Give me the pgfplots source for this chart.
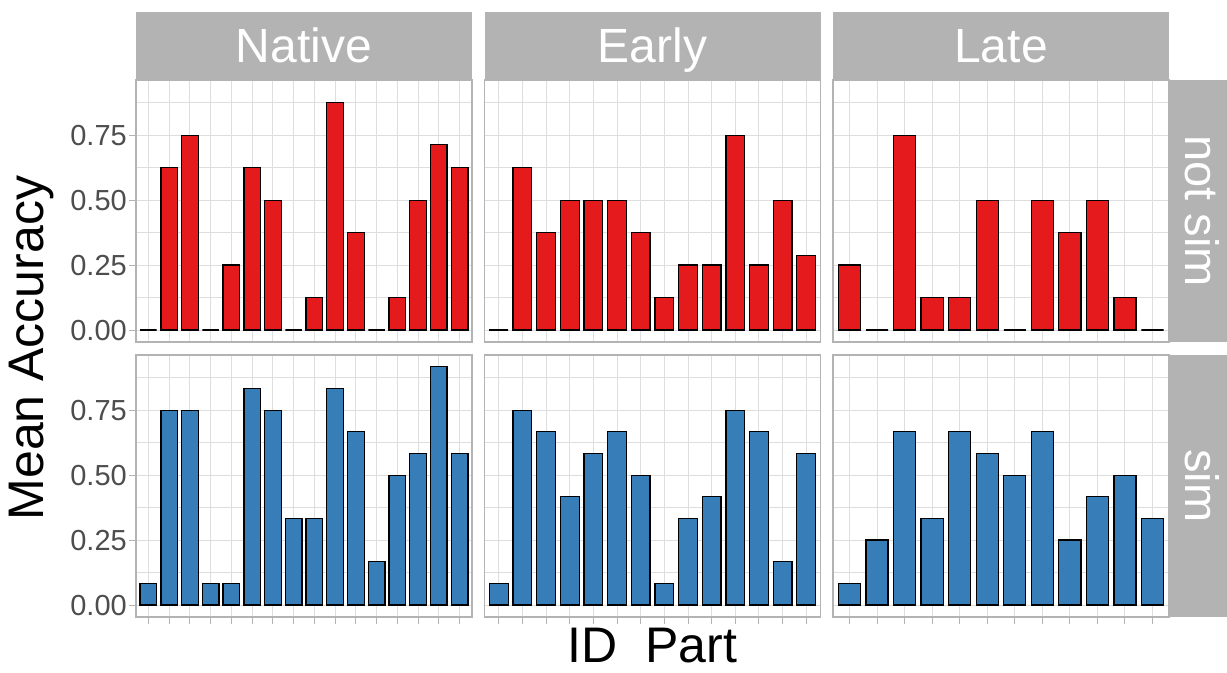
\documentclass[border=0pt]{standalone}
\usepackage{fontspec}
\setmainfont{Liberation Sans}
\usepackage{pgfplots}
\pgfplotsset{compat=1.18}

\definecolor{barred}{HTML}{E41A1C}
\definecolor{barblue}{HTML}{377EB8}
\definecolor{grey70}{HTML}{B3B3B3}
\definecolor{grey87}{HTML}{DEDEDE}
\definecolor{grey30}{HTML}{4D4D4D}

\pgfplotsset{
  facet/.style={
    scale only axis, width=336bp, height=262bp,
    anchor=south west,
    ymin=-0.0458, ymax=0.9625, xmin=0.4,
    ytick={0,0.25,0.5,0.75},
    minor ytick={0.125,0.375,0.625,0.875},
    grid=both,
    major grid style={grey87, line width=1bp},
    minor grid style={grey87, line width=0.8bp},
    axis line style={grey70, line width=1.3bp},
    tick align=outside,
    major tick length=7bp, minor tick length=0pt,
    every x tick/.style={draw=none},
    every y tick/.style={draw=none},
    xticklabels={}, yticklabels={},
    xtick pos=left, ytick pos=left,
    yticklabel style={font=\fontsize{29bp}{29bp}\selectfont, text=grey30, inner sep=2bp},
    ybar, bar width=0.8, bar shift=0pt,
  },
  leftcol/.style={
    yticklabels={0.00,0.25,0.50,0.75},
    every y tick/.style={draw=grey70, line width=1bp},
  },
  bottomrow/.style={
    every x tick/.style={draw=grey70, line width=1bp},
  },
  redbar/.style={fill=barred, draw=black, line width=1.3bp},
  bluebar/.style={fill=barblue, draw=black, line width=1.3bp},
}

\begin{document}
\begin{tikzpicture}

% ---- top row: not sim ----
\begin{axis}[facet, leftcol, at={(136bp,331bp)}, xmax=16.6, xtick={1,...,16}]
  \addplot[redbar] coordinates {
    (1,0) (2,0.625) (3,0.75) (4,0) (5,0.25) (6,0.625) (7,0.5) (8,0)
    (9,0.125) (10,0.875) (11,0.375) (12,0) (13,0.125) (14,0.5) (15,0.714) (16,0.625)
  };
\end{axis}
\begin{axis}[facet, at={(484.5bp,331bp)}, xmax=14.6, xtick={1,...,14}]
  \addplot[redbar] coordinates {
    (1,0) (2,0.625) (3,0.375) (4,0.5) (5,0.5) (6,0.5) (7,0.375)
    (8,0.125) (9,0.25) (10,0.25) (11,0.75) (12,0.25) (13,0.5) (14,0.286)
  };
\end{axis}
\begin{axis}[facet, at={(833bp,331bp)}, xmax=12.6, xtick={1,...,12}]
  \addplot[redbar] coordinates {
    (1,0.25) (2,0) (3,0.75) (4,0.125) (5,0.125) (6,0.5)
    (7,0) (8,0.5) (9,0.375) (10,0.5) (11,0.125) (12,0)
  };
\end{axis}

% ---- bottom row: sim ----
\begin{axis}[facet, leftcol, bottomrow, at={(136bp,56bp)}, xmax=16.6, xtick={1,...,16}]
  \addplot[bluebar] coordinates {
    (1,0.083) (2,0.75) (3,0.75) (4,0.083) (5,0.083) (6,0.833) (7,0.75) (8,0.333)
    (9,0.333) (10,0.833) (11,0.667) (12,0.167) (13,0.5) (14,0.583) (15,0.917) (16,0.583)
  };
\end{axis}
\begin{axis}[facet, bottomrow, at={(484.5bp,56bp)}, xmax=14.6, xtick={1,...,14}]
  \addplot[bluebar] coordinates {
    (1,0.083) (2,0.75) (3,0.667) (4,0.417) (5,0.583) (6,0.667) (7,0.5)
    (8,0.083) (9,0.333) (10,0.417) (11,0.75) (12,0.667) (13,0.167) (14,0.583)
  };
\end{axis}
\begin{axis}[facet, bottomrow, at={(833bp,56bp)}, xmax=12.6, xtick={1,...,12}]
  \addplot[bluebar] coordinates {
    (1,0.083) (2,0.25) (3,0.667) (4,0.333) (5,0.667) (6,0.583)
    (7,0.5) (8,0.667) (9,0.25) (10,0.417) (11,0.5) (12,0.333)
  };
\end{axis}

% ---- strips ----
\fill[grey70] (136bp,593bp) rectangle ++(336bp,68bp);
\fill[grey70] (484.5bp,593bp) rectangle ++(336bp,68bp);
\fill[grey70] (833bp,593bp) rectangle ++(336bp,68bp);
\node[white, anchor=base, inner sep=0pt, font=\fontsize{48bp}{48bp}\selectfont] at (304bp,610bp) {Native};
\node[white, anchor=base, inner sep=0pt, font=\fontsize{48bp}{48bp}\selectfont] at (652.5bp,610bp) {Early};
\node[white, anchor=base, inner sep=0pt, font=\fontsize{48bp}{48bp}\selectfont] at (1001bp,610bp) {Late};

\fill[grey70] (1169bp,331bp) rectangle (1227bp,593bp);
\fill[grey70] (1169bp,56bp) rectangle (1227bp,318bp);
\node[white, rotate=-90, anchor=base, inner sep=0pt, font=\fontsize{47bp}{47bp}\selectfont] at (1185bp,462bp) {not sim};
\node[white, rotate=-90, anchor=base, inner sep=0pt, font=\fontsize{47bp}{47bp}\selectfont] at (1185bp,187bp) {sim};

% ---- axis titles ----
\node[rotate=90, inner sep=0pt, font=\fontsize{50bp}{50bp}\selectfont] at (31bp,325bp) {Mean Accuracy};
\node[anchor=base, inner sep=0pt, font=\fontsize{50bp}{50bp}\selectfont] at (652.5bp,11bp) {ID\ \ Part};

\pgfresetboundingbox
\path (0,0) rectangle (1227bp,673bp);
\end{tikzpicture}
\end{document}
